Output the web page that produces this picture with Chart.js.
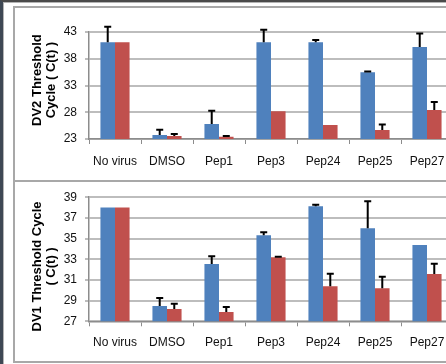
<!DOCTYPE html>
<html>
<head>
<meta charset="utf-8">
<script src="https://cdn.jsdelivr.net/npm/chart.js@4.4.0/dist/chart.umd.min.js"></script>
<style>
    html, body { margin: 0; padding: 0; background: #fff; width: 446px; height: 364px; overflow: hidden; }
    .frame { position: absolute; left: 0; top: 0; width: 470px; height: 364px; box-sizing: border-box;
             border-left: 3px solid #3e4854; border-top: 2px solid #4a4a4a; }
    .frame2 { position: absolute; left: 0; top: 0; width: 470px; height: 364px; box-sizing: border-box;
              border-left: 1px solid #b4b4b4; border-top: 1px solid #b4b4b4; }
    .panel { position: absolute; left: 13px; width: 480px; box-sizing: border-box; border: 2px solid #a8a8a8; background: #fff; }
    canvas { position: absolute; }
</style>
</head>
<body>
<div class="frame"><div class="frame2"></div></div>
<div class="panel" style="top:6px;height:176px"></div>
<div class="panel" style="top:180px;height:183px"></div>
<canvas id="chart-dv2" width="446" height="172" style="left:15px;top:8px"></canvas>
<canvas id="chart-dv1" width="446" height="179" style="left:15px;top:182px"></canvas>

<script>
const categories = ["No virus", "DMSO", "Pep1", "Pep3", "Pep24", "Pep25", "Pep27"];

// DV2 panel (top)
const dv2Blue = [41.1, 23.75, 25.8, 41.1, 41.1, 35.5, 40.2];
const dv2BlueErr = [2.9, 1.0, 2.5, 2.3, 0.4, 0.1, 2.5];
const dv2Red = [41.1, 23.55, 23.4, 28.2, 25.6, 24.7, 28.4];
const dv2RedErr = [0, 0.4, 0.15, 0, 0, 1.0, 1.5];
const dv2Ticks = { min: 23, max: 43, step: 5 };

// DV1 panel (bottom)
const dv1Blue = [38.0, 28.48, 32.53, 35.33, 38.13, 36.0, 34.37];
const dv1BlueErr = [0, 0.77, 0.77, 0.27, 0.13, 2.6, 0];
const dv1Red = [38.0, 28.19, 27.9, 33.2, 30.4, 30.2, 31.57];
const dv1RedErr = [0, 0.5, 0.48, 0.05, 1.2, 1.1, 1.0];
const dv1Ticks = { min: 27, max: 39, step: 2 };

const BLUE = "#4f81bd";
const RED = "#c0504d";
const FONT = "'Liberation Sans', Arial, sans-serif";

// draws upward error bars with a small cap
const errorBars = {
    id: "errorBars",
    afterDatasetsDraw(chart) {
        const ctx = chart.ctx;
        const yScale = chart.scales.y;
        ctx.save();
        ctx.strokeStyle = "#000";
        ctx.lineWidth = 2;
        chart.data.datasets.forEach((ds, i) => {
            const meta = chart.getDatasetMeta(i);
            meta.data.forEach((bar, j) => {
                const err = ds.errors[j];
                if (!err) return;
                const top = yScale.getPixelForValue(ds.data[j] + err);
                ctx.beginPath();
                ctx.moveTo(bar.x, bar.y);
                ctx.lineTo(bar.x, top);
                ctx.moveTo(bar.x - 3.5, top);
                ctx.lineTo(bar.x + 3.5, top);
                ctx.stroke();
            });
        });
        ctx.restore();
    }
};

function makeChart(id, blue, blueErr, red, redErr, ticks, title, pad, labelPad) {
    return new Chart(document.getElementById(id), {
        type: "bar",
        data: {
            labels: categories,
            datasets: [
                { data: blue, errors: blueErr, backgroundColor: BLUE },
                { data: red, errors: redErr, backgroundColor: RED }
            ]
        },
        options: {
            responsive: false,
            animation: false,
            devicePixelRatio: 1,
            layout: { padding: pad },
            datasets: { bar: { categoryPercentage: 0.56, barPercentage: 1.0 } },
            plugins: { legend: { display: false }, tooltip: { enabled: false } },
            scales: {
                x: {
                    afterFit: s => { s.height = 30; },
                    grid: { drawOnChartArea: false, color: "#8c8c8c", lineWidth: 1, tickLength: 5 },
                    border: { color: "#8c8c8c", width: 1.5 },
                    ticks: { color: "#111", padding: labelPad, font: { family: FONT, size: 12 } }
                },
                y: {
                    min: ticks.min,
                    max: ticks.max,
                    afterFit: s => { s.width = 74; },
                    grid: { color: "#bdbdbd", lineWidth: 2, tickLength: 4 },
                    border: { color: "#8c8c8c", width: 1.5 },
                    ticks: { stepSize: ticks.step, color: "#111", padding: 8, font: { family: FONT, size: 12 } },
                    title: {
                        display: true,
                        text: title,
                        color: "#000",
                        padding: { top: 16, bottom: 0 },
                        font: { family: FONT, size: 13, weight: "bold", lineHeight: 1.05 }
                    }
                }
            }
        },
        plugins: [errorBars]
    });
}

// spaces nudge the rotated titles along the axis, like in the original sheet
makeChart("chart-dv2", dv2Blue, dv2BlueErr, dv2Red, dv2RedErr, dv2Ticks,
    ["   DV2 Threshold", "   Cycle ( C(t) )"], { top: 24, right: 8, bottom: 11, left: 0 }, 10);
makeChart("chart-dv1", dv1Blue, dv1BlueErr, dv1Red, dv1RedErr, dv1Ticks,
    ["DV1 Threshold Cycle    ", "( C(t) )    "], { top: 15, right: 8, bottom: 9.7, left: 0 }, 9);
</script>
</body>
</html>
